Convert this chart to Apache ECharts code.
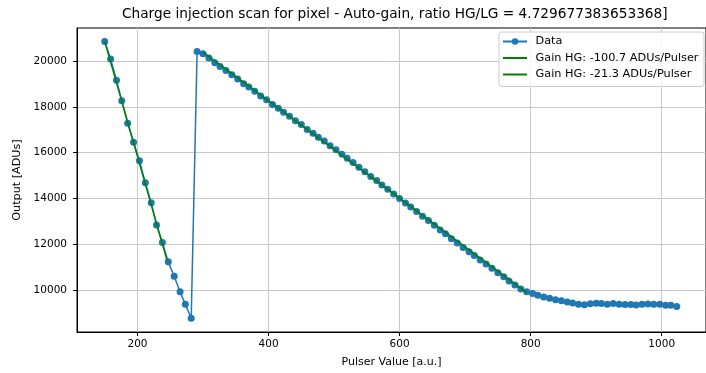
<!DOCTYPE html>
<html>
<head>
<meta charset="utf-8">
<script src="https://cdn.jsdelivr.net/npm/echarts@6/dist/echarts.min.js"></script>
<style>
  html, body { margin: 0; padding: 0; background: #fff; }
  #chart { width: 706px; height: 373px; }
</style>
</head>
<body>
<div id="chart"></div>
<script>
// pulser settings (x) and measured output (y)
var pulser = [150, 159, 168, 176, 185, 194, 203, 212, 221, 229, 238, 247, 256, 265, 273, 282,
  291, 300, 309, 318, 326, 335, 344, 353, 362, 370, 379, 388, 397, 406, 415, 423, 432, 441,
  450, 459, 468, 476, 485, 494, 503, 512, 520, 529, 538, 547, 556, 565, 573, 582, 591, 600,
  609, 617, 626, 635, 644, 653, 662, 670, 679, 688, 697, 706, 714, 723, 732, 741, 750, 759,
  767, 776, 785, 794, 803, 811, 820, 829, 838, 847, 856, 864, 873, 882, 891, 900, 908, 917,
  926, 935, 944, 953, 961, 970, 979, 988, 997, 1006, 1014, 1023];
var output = [20865, 20104, 19166, 18271, 17294, 16455, 15651, 14682, 13805, 12840, 12075,
  11224, 10592, 9914, 9364, 8759,
  20430, 20330, 20140, 19940, 19770, 19600, 19410, 19230, 19020, 18870,
  18690, 18480, 18320, 18110, 17950, 17770, 17600, 17400, 17230, 17020,
  16850, 16680, 16510, 16300, 16130, 15930, 15760, 15570, 15360, 15170,
  14960, 14780, 14590, 14400, 14190, 14000, 13800, 13620, 13430, 13220,
  13030, 12820, 12620, 12450, 12240, 12050, 11850, 11670, 11500, 11310,
  11130, 10940, 10750, 10570, 10390, 10210, 10040, 9920, 9840, 9760,
  9690, 9630, 9570, 9520, 9470, 9420, 9370, 9350, 9390, 9410,
  9400, 9370, 9400, 9370, 9360, 9360, 9340, 9370, 9380, 9370,
  9370, 9330, 9320, 9270];

// linear fits (end points)
var fitLowX = [150, 245];
var fitLowY = [20870, 11300];
var fitHighX = [300, 794];
var fitHighY = [20400, 9880];

var xTicks = [200, 400, 600, 800, 1000];
var yTicks = [10000, 12000, 14000, 16000, 18000, 20000];

function pairs(xs, ys) {
  var out = [];
  for (var i = 0; i < xs.length; i++) out.push([xs[i], ys[i]]);
  return out;
}

function plain(v) {
  return String(v);
}

var font = "DejaVu Sans";
var chart = echarts.init(document.getElementById("chart"));
chart.setOption({
  animation: false,
  backgroundColor: "#fff",
  title: {
    text: "Charge injection scan for pixel - Auto-gain, ratio HG/LG = 4.729677383653368]",
    left: 122,
    top: 7,
    padding: 0,
    textStyle: { fontFamily: font, fontSize: 13.7, fontWeight: "normal", color: "#000" }
  },
  grid: {
    left: 77,
    right: -5,
    top: 28,
    bottom: 37,
    show: true,
    borderColor: "#000",
    borderWidth: 1,
    backgroundColor: "transparent"
  },
  legend: {
    orient: "vertical",
    left: 499,
    top: 32,
    padding: [2.5, 5.5, 5, 3],
    itemGap: 2.5,
    itemWidth: 24,
    itemHeight: 8,
    backgroundColor: "rgba(255,255,255,0.85)",
    borderColor: "#cccccc",
    borderWidth: 1,
    borderRadius: 3,
    textStyle: { fontFamily: font, fontSize: 11.3, color: "#000", lineHeight: 14, padding: [0, 0, 0, 3.5] },
    data: [
      "Data",
      { name: "Gain HG: -100.7 ADUs/Pulser", itemStyle: { opacity: 0 } },
      { name: "Gain HG: -21.3 ADUs/Pulser", itemStyle: { opacity: 0 } }
    ]
  },
  xAxis: {
    type: "value",
    min: 107.7,
    max: 1067.6,
    name: "Pulser Value [a.u.]",
    nameLocation: "middle",
    nameGap: 25,
    nameTextStyle: { fontFamily: font, fontSize: 11, color: "#000" },
    axisLine: { show: true, lineStyle: { color: "#000", width: 1 } },
    axisTick: { show: true, length: 4, customValues: xTicks, lineStyle: { color: "#000" } },
    axisLabel: { customValues: xTicks, formatter: plain, margin: 7, fontFamily: font, fontSize: 10.5, color: "#000" },
    splitLine: { show: true, lineStyle: { color: "#c8c8c8", width: 1 } }
  },
  yAxis: {
    type: "value",
    min: 8154,
    max: 21457,
    name: "Output [ADUs]",
    nameLocation: "middle",
    nameGap: 50,
    nameTextStyle: { fontFamily: font, fontSize: 11.2, color: "#000" },
    axisLine: { show: true, lineStyle: { color: "#000", width: 1 } },
    axisTick: { show: true, length: 4, customValues: yTicks, lineStyle: { color: "#000" } },
    axisLabel: { customValues: yTicks, formatter: plain, margin: 10, fontFamily: font, fontSize: 10.5, color: "#000" },
    splitLine: { show: true, lineStyle: { color: "#c8c8c8", width: 1 } }
  },
  series: [
    {
      name: "Data",
      type: "line",
      data: pairs(pulser, output),
      symbol: "circle",
      symbolSize: 7,
      z: 2,
      lineStyle: { color: "#1f77b4", width: 1.5 },
      itemStyle: { color: "#1f77b4" }
    },
    {
      name: "Gain HG: -100.7 ADUs/Pulser",
      type: "line",
      data: pairs(fitLowX, fitLowY),
      symbol: "none",
      z: 3,
      lineStyle: { color: "#008000", width: 1.5 },
      itemStyle: { color: "#008000" }
    },
    {
      name: "Gain HG: -21.3 ADUs/Pulser",
      type: "line",
      data: pairs(fitHighX, fitHighY),
      symbol: "none",
      z: 3,
      lineStyle: { color: "#008000", width: 1.5 },
      itemStyle: { color: "#008000" }
    }
  ]
});
</script>
</body>
</html>
